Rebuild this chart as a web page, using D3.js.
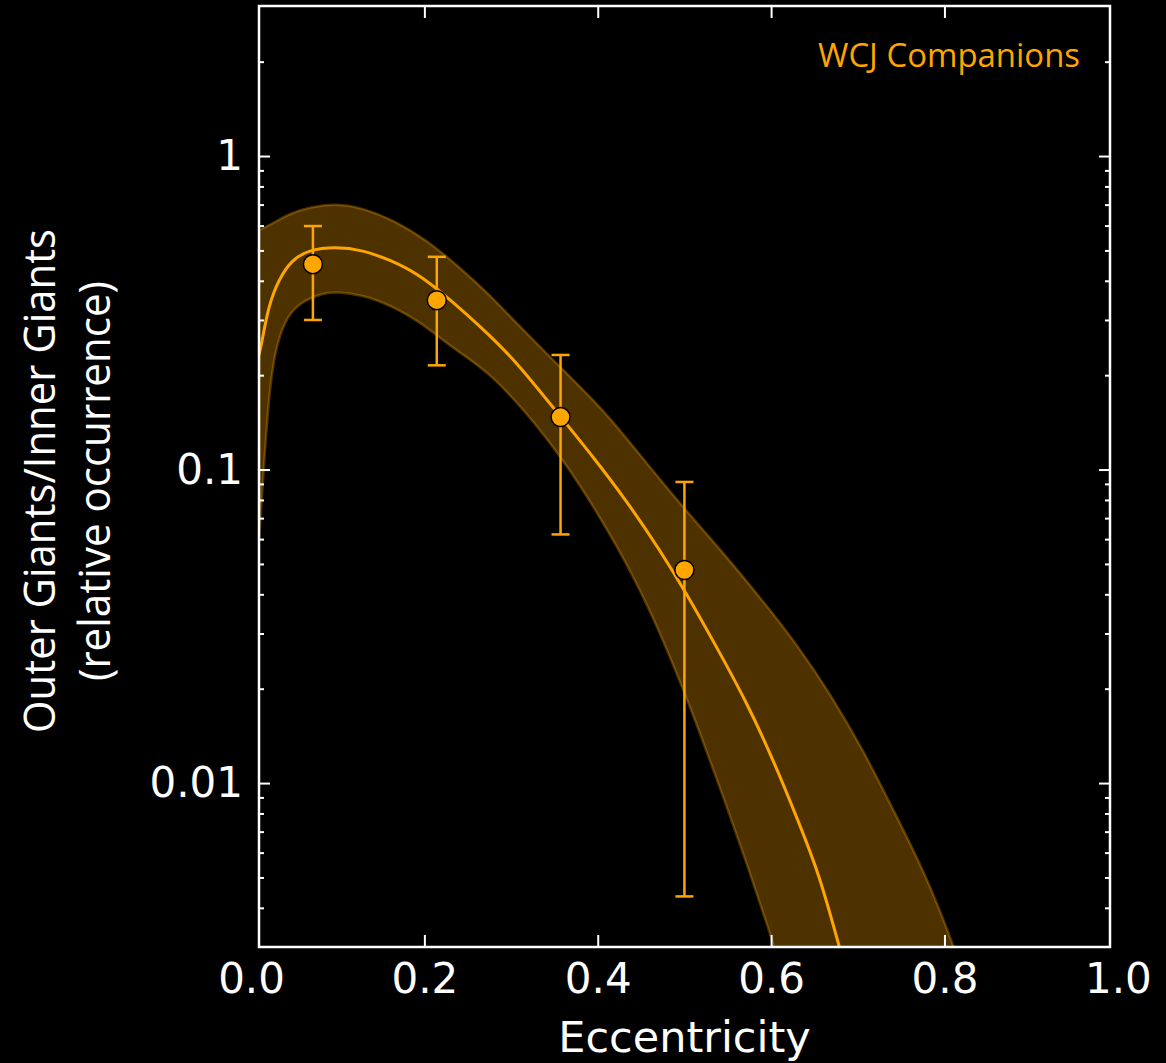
<!DOCTYPE html>
<html>
<head>
<meta charset="utf-8">
<script src="https://cdn.jsdelivr.net/npm/d3@7"></script>
<style>
  html, body { margin: 0; padding: 0; background: #000; }
  svg { display: block; }
</style>
</head>
<body>
<div id="chart"></div>
<script>
// binned occurrence ratios (points with error bars)
const binEcc = [0.0714, 0.2143, 0.3571, 0.5];
const binRatio = [0.452, 0.347, 0.147, 0.0478];
const binLow = [0.300, 0.215, 0.0621, 0.00435];
const binHigh = [0.598, 0.477, 0.232, 0.0913];

// best-fit model curve
const fitEcc = [0.0092, 0.0123, 0.0199, 0.0315, 0.0469, 0.0661, 0.0969, 0.1292, 0.1603, 0.1911, 0.2238, 0.2642, 0.3026, 0.3573, 0.3949, 0.4334, 0.4718, 0.5026, 0.5333, 0.5718, 0.6025, 0.6295, 0.6564, 0.6783, 0.6852];
const fitRatio = [0.232, 0.2527, 0.3307, 0.4023, 0.4661, 0.5015, 0.5138, 0.5015, 0.4661, 0.4234, 0.3602, 0.2866, 0.227, 0.1471, 0.1096, 0.0794, 0.0553, 0.0401, 0.02838, 0.01814, 0.01185, 0.00779, 0.00505, 0.00302, 0.00261];

// confidence band, upper edge
const upperEcc = [0.0092, 0.0242, 0.043, 0.068, 0.0988, 0.1295, 0.1641, 0.2027, 0.2388, 0.2757, 0.3026, 0.3603, 0.4064, 0.4349, 0.4911, 0.5488, 0.593, 0.6311, 0.6679, 0.7064, 0.7449, 0.7795, 0.8102, 0.8156];
const upperRatio = [0.5807, 0.6069, 0.6533, 0.6881, 0.707, 0.6815, 0.6252, 0.5397, 0.4461, 0.3603, 0.2999, 0.2077, 0.1548, 0.1242, 0.0799, 0.0527, 0.03738, 0.02735, 0.01933, 0.01275, 0.00781, 0.00503, 0.00304, 0.00273];

// confidence band, lower edge
const lowerEcc = [0.0092, 0.0123, 0.0199, 0.0277, 0.0392, 0.0545, 0.0815, 0.0988, 0.1295, 0.1603, 0.1949, 0.218, 0.2449, 0.2642, 0.2834, 0.3022, 0.3218, 0.3603, 0.3949, 0.4334, 0.4641, 0.4949, 0.518, 0.5449, 0.5718, 0.5987, 0.6045];
const lowerRatio = [0.0596, 0.0799, 0.1667, 0.2406, 0.2999, 0.3391, 0.3648, 0.3691, 0.3602, 0.3349, 0.2955, 0.2628, 0.232, 0.2124, 0.1916, 0.1684, 0.1469, 0.1073, 0.0765, 0.0503, 0.03385, 0.02116, 0.01444, 0.00903, 0.00556, 0.00332, 0.00293];

const xTickLabels = [0, 0.2, 0.4, 0.6, 0.8, 1.0];
const xTickMarks = [0.2, 0.4, 0.6, 0.8];
const yMajor = [0.01, 0.1, 1];
const yLabelText = {0.01: "0.01", 0.1: "0.1", 1: "1"};

const seriesName = "WCJ Companions";
const xTitle = "Eccentricity";
const yTitle = ["Outer Giants/Inner Giants", "(relative occurrence)"];

const orange = "#FFA500";
const W = 1166, H = 1063;
const mLeft = 259, mRight = 1110, mTop = 6, mBottom = 947;

const svg = d3.select("#chart").append("svg")
  .attr("width", W).attr("height", H)
  .style("background", "#000");

const x = d3.scaleLinear().domain([0.0092, 0.991]).range([mLeft, mRight]);
const y = d3.scaleLog().domain([0.003, 3.01]).range([mBottom, mTop]);

// minor log ticks
const yMinor = [];
[0.001, 0.01, 0.1, 1].forEach(d => {
  for (let k = 2; k <= 9; k++) {
    const v = +(k * d).toPrecision(3);
    if (v > 0.0031 && v < 2.9) yMinor.push(v);
  }
});

svg.append("clipPath").attr("id", "plot")
  .append("rect").attr("x", mLeft).attr("y", mTop)
  .attr("width", mRight - mLeft).attr("height", mBottom - mTop);

const plot = svg.append("g").attr("clip-path", "url(#plot)");

// smoothing spline through the read-off points
const line = d3.line().x(d => x(d[0])).y(d => y(d[1])).curve(d3.curveBasis);
const upperPts = upperEcc.map((e, i) => [e, upperRatio[i]]);
const lowerPts = lowerEcc.map((e, i) => [e, lowerRatio[i]]).reverse();
const bandPath = line(upperPts) + "L" + line(lowerPts).slice(1) + "Z";

plot.append("path")
  .attr("d", bandPath)
  .attr("fill", orange)
  .attr("fill-opacity", 0.3)
  .attr("stroke", orange)
  .attr("stroke-opacity", 0.3)
  .attr("stroke-width", 2.5);

// model curve
plot.append("path")
  .attr("d", line(fitEcc.map((e, i) => [e, fitRatio[i]])))
  .attr("fill", "none")
  .attr("stroke", orange)
  .attr("stroke-width", 3);

// error bars
const bars = plot.selectAll(".err").data(binEcc).enter().append("g").attr("class", "err");
bars.append("line")
  .attr("x1", d => x(d)).attr("x2", d => x(d))
  .attr("y1", (d, i) => y(binLow[i])).attr("y2", (d, i) => y(binHigh[i]))
  .attr("stroke", orange).attr("stroke-width", 2.5);
bars.append("line")
  .attr("x1", d => x(d) - 9).attr("x2", d => x(d) + 9)
  .attr("y1", (d, i) => y(binLow[i])).attr("y2", (d, i) => y(binLow[i]))
  .attr("stroke", orange).attr("stroke-width", 2.5);
bars.append("line")
  .attr("x1", d => x(d) - 9).attr("x2", d => x(d) + 9)
  .attr("y1", (d, i) => y(binHigh[i])).attr("y2", (d, i) => y(binHigh[i]))
  .attr("stroke", orange).attr("stroke-width", 2.5);
bars.append("circle")
  .attr("cx", d => x(d)).attr("cy", (d, i) => y(binRatio[i]))
  .attr("r", 9.5)
  .attr("fill", orange).attr("stroke", "#000").attr("stroke-width", 1.5);

// axes (ticks point inward)
function styleAxis(g) {
  g.select(".domain").remove();
  g.selectAll(".tick line").attr("stroke", "#fff").attr("stroke-width", 2);
  g.selectAll("text").attr("fill", "#fff")
    .style("font-family", "'DejaVu Sans', sans-serif").style("font-size", "42px");
}

svg.append("g").attr("transform", `translate(${mLeft},0)`)
  .call(d3.axisLeft(y).tickValues(yMajor).tickSize(-11).tickPadding(16)
    .tickFormat(d => yLabelText[d]))
  .call(styleAxis);
svg.append("g").attr("transform", `translate(${mLeft},0)`)
  .call(d3.axisLeft(y).tickValues(yMinor).tickSize(-5).tickFormat(""))
  .call(styleAxis);
svg.append("g").attr("transform", `translate(${mRight},0)`)
  .call(d3.axisRight(y).tickValues(yMajor).tickSize(-11).tickFormat(""))
  .call(styleAxis);
svg.append("g").attr("transform", `translate(${mRight},0)`)
  .call(d3.axisRight(y).tickValues(yMinor).tickSize(-5).tickFormat(""))
  .call(styleAxis);

svg.append("g").attr("transform", `translate(0,${mBottom})`)
  .call(d3.axisBottom(x).tickValues(xTickMarks).tickSize(-12).tickFormat(""))
  .call(styleAxis);
svg.append("g").attr("transform", `translate(0,${mTop})`)
  .call(d3.axisTop(x).tickValues(xTickMarks).tickSize(-12).tickFormat(""))
  .call(styleAxis);
svg.append("g").attr("transform", `translate(0,${mBottom})`)
  .call(d3.axisBottom(x).tickValues(xTickLabels).tickSize(0).tickPadding(16)
    .tickFormat(d3.format(".1f")))
  .call(styleAxis);

// frame
svg.append("rect")
  .attr("x", mLeft).attr("y", mTop)
  .attr("width", mRight - mLeft).attr("height", mBottom - mTop)
  .attr("fill", "none").attr("stroke", "#fff").attr("stroke-width", 2.5);

// titles
svg.append("text")
  .attr("x", (mLeft + mRight) / 2).attr("y", 1052)
  .attr("text-anchor", "middle")
  .attr("fill", "#fff")
  .style("font-family", "'DejaVu Sans', sans-serif").style("font-size", "43px")
  .text(xTitle);

const yt = svg.append("g").attr("transform", "translate(0,481) rotate(-90)");
yt.append("text")
  .attr("x", -252).attr("y", 55)
  .attr("textLength", 504).attr("lengthAdjust", "spacingAndGlyphs")
  .attr("fill", "#fff")
  .style("font-family", "'Open Sans', sans-serif").style("font-size", "43px")
  .text(yTitle[0]);
yt.append("text")
  .attr("x", -200).attr("y", 110)
  .attr("textLength", 400).attr("lengthAdjust", "spacingAndGlyphs")
  .attr("fill", "#fff")
  .style("font-family", "'Open Sans', sans-serif").style("font-size", "43px")
  .text(yTitle[1]);

svg.append("text")
  .attr("x", 818).attr("y", 67)
  .attr("textLength", 262).attr("lengthAdjust", "spacingAndGlyphs")
  .attr("fill", orange)
  .style("font-family", "'Open Sans', sans-serif").style("font-size", "33px")
  .text(seriesName);
</script>
</body>
</html>
